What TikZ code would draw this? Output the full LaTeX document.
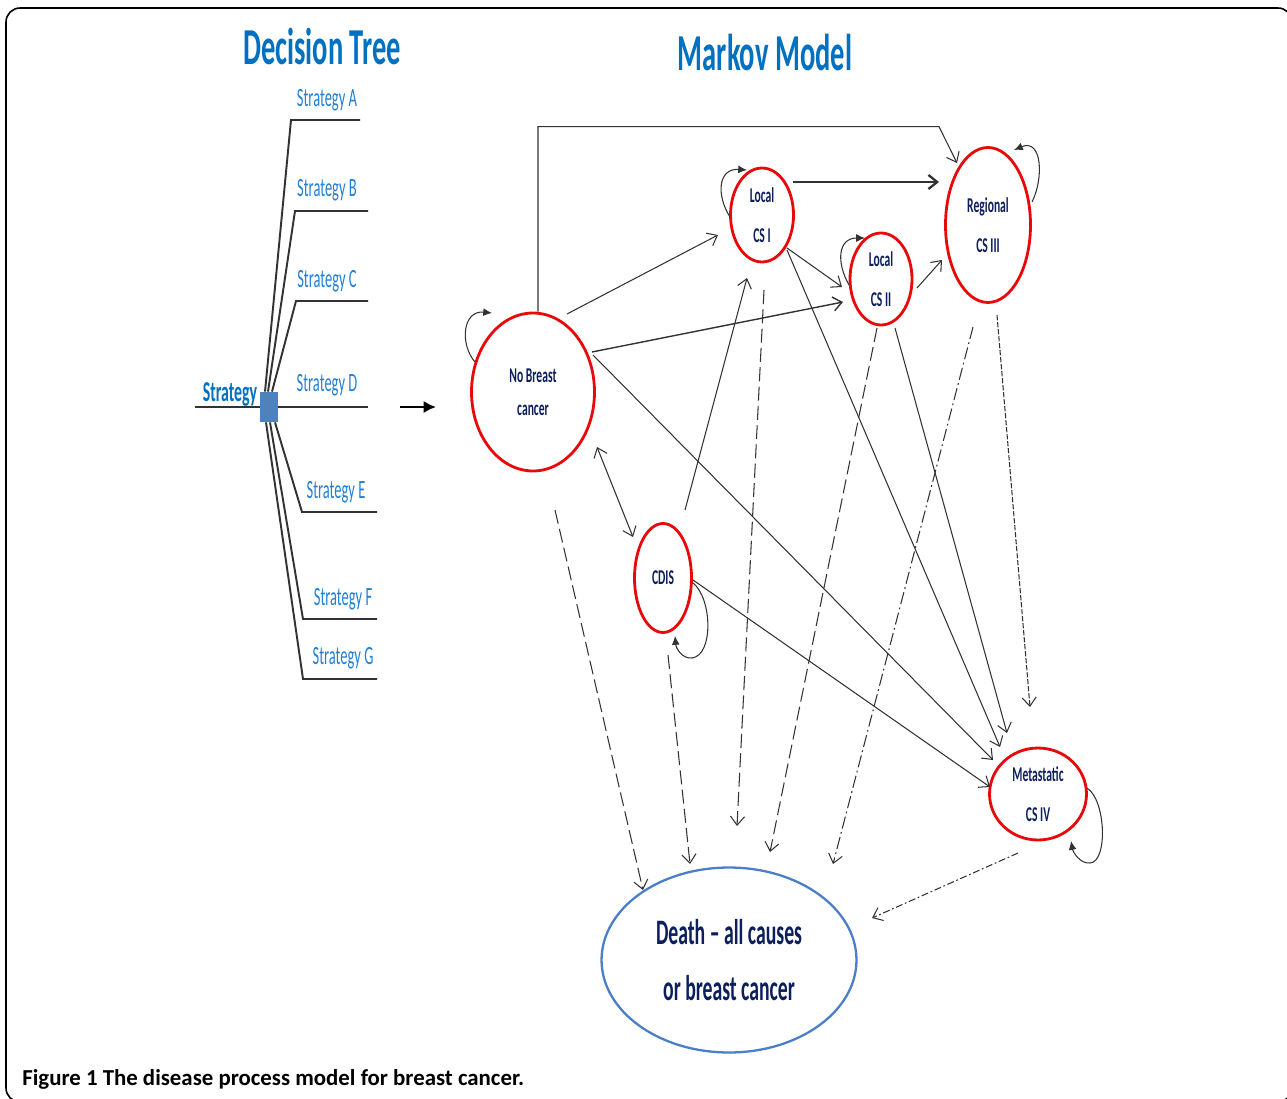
\documentclass[tikz,border=0pt]{standalone}
\usepackage{fontspec}
\usetikzlibrary{shapes.geometric,arrows.meta}

\newfontfamily\narrowfont[FakeStretch=0.55]{Carlito}
\newfontfamily\capfont{Carlito}

\definecolor{titleblue}{RGB}{0,112,192}
\definecolor{labelblue}{RGB}{35,128,212}
\definecolor{boxblue}{RGB}{79,129,189}
\definecolor{statered}{RGB}{232,10,10}
\definecolor{deathblue}{RGB}{74,126,200}
\definecolor{navytext}{RGB}{12,30,92}
\definecolor{linegray}{RGB}{50,50,50}

\tikzset{
  >={Straight Barb[length=5pt,width=8pt]},
  markovstate/.style={ellipse, draw=statered, line width=1.6pt, text=navytext, align=center, inner sep=0pt,
    font=\narrowfont\bfseries\fontsize{12}{23}\selectfont},
  deathstate/.style={ellipse, draw=deathblue, line width=1.3pt, text=navytext, align=center, inner sep=0pt,
    font=\narrowfont\bfseries\fontsize{20.4}{31.7}\selectfont},
  flowarrow/.style={->, draw=linegray, line width=0.6pt},
  deathflow/.style={flowarrow, dash pattern=on 8pt off 3pt},
  dashdotflow/.style={flowarrow, dash pattern=on 7pt off 2pt on 1pt off 2pt},
  selfloop/.style={draw=linegray, line width=0.6pt, -{Latex[length=5pt,width=4.5pt]}},
  branchline/.style={draw=linegray, line width=1.1pt},
  stratlabel/.style={text=labelblue, font=\narrowfont\fontsize{15}{16}\selectfont},
}

\begin{document}
\begin{tikzpicture}[x=0.02cm,y=-0.02cm]
    \useasboundingbox (0,0) rectangle (1287,1098);

    % Frame
    \begin{scope}
        \clip (0,0) rectangle (1287,1098);
        \draw[line width=0.9pt, rounded corners=8] (6,8) rectangle (1292,1102);
    \end{scope}

    % Titles
    \node[text=titleblue, font=\narrowfont\bfseries\fontsize{29.5}{30}\selectfont] (treetitle) at (322,47) {Decision Tree};
    \node[text=titleblue, font=\narrowfont\bfseries\fontsize{29.5}{30}\selectfont] (markovtitle) at (765,53) {Markov Model};

    % Decision tree
    \draw[branchline] (195,407) -- (368,407);
    \node[fill=boxblue, minimum width=0.36cm, minimum height=0.6cm, inner sep=0pt] (root) at (269,407) {};
    \node[text=titleblue, font=\narrowfont\bfseries\fontsize{16.4}{17}\selectfont] (rootlabel) at (230,394) {Strategy};

    \draw[branchline] ([shift={(-4,0)}]root.north) -- (291,120) -- (360,120);
    \draw[branchline] ([shift={(-1,0)}]root.north) -- (295,211) -- (368,211);
    \draw[branchline] ([shift={(3,0)}]root.north) -- (296,301) -- (368,301);
    \draw[branchline] ([shift={(6,0)}]root.south) -- (302,512) -- (377,512);
    \draw[branchline] ([shift={(1,0)}]root.south) -- (303,619) -- (377,619);
    \draw[branchline] ([shift={(-3,0)}]root.south) -- (303,679) -- (377,679);

    \node[stratlabel] (stratA) at (327,100) {Strategy A};
    \node[stratlabel] (stratB) at (327,190) {Strategy B};
    \node[stratlabel] (stratC) at (327,281) {Strategy C};
    \node[stratlabel] (stratD) at (327,385) {Strategy D};
    \node[stratlabel] (stratE) at (336,492) {Strategy E};
    \node[stratlabel] (stratF) at (343,599) {Strategy F};
    \node[stratlabel] (stratG) at (343,658) {Strategy G};

    % Link arrow
    \coordinate (linkstart) at (400,407);
    \coordinate (linkend) at (436,407);
    \draw[line width=1.5pt, -{Latex[length=7pt,width=7pt]}] (linkstart) -- (linkend);

    % Markov states
    \node[markovstate, minimum width=2.46cm, minimum height=3.16cm, font=\narrowfont\bfseries\fontsize{12}{18.7}\selectfont] (nobc) at (533,392) {No Breast\\cancer};
    \node[markovstate, minimum width=1.26cm, minimum height=1.88cm] (csone) at (762,215) {Local\\CS I};
    \node[markovstate, minimum width=1.24cm, minimum height=1.84cm] (cstwo) at (881,279) {Local\\CS II};
    \node[markovstate, minimum width=1.7cm, minimum height=3.1cm] (csthree) at (988,225) {Regional\\CS III};
    \node[markovstate, minimum width=1.14cm, minimum height=2.18cm] (cdis) at (663,578) {CDIS};
    \node[markovstate, minimum width=1.94cm, minimum height=1.84cm] (meta) at (1038,794) {Metastatic\\CS IV};
    \node[deathstate, minimum width=5.1cm, minimum height=3.7cm] (death) at (729,960) {Death – all causes\\or breast cancer};

    % Transitions
    \draw[flowarrow] ([shift={(5,0)}]nobc.north) -- ++(0,-185) -- ++(401,0) -- ([shift={(-31,-62)}]csthree.center);
    \draw[flowarrow, line width=1.3pt] ([shift={(31,-33)}]csone.center) -- ([shift={(-49,-43)}]csthree.center);
    \draw[flowarrow] ([shift={(34,-78)}]nobc.center) -- ([shift={(-44,20)}]csone.center);
    \draw[flowarrow] ([shift={(25,33)}]csone.center) -- ([shift={(-39,8)}]cstwo.center);
    \draw[flowarrow, line width=0.8pt] ([shift={(59,-40)}]nobc.center) -- ([shift={(-38,23)}]cstwo.center);
    \draw[flowarrow] ([shift={(36,9)}]cstwo.center) -- ([shift={(-46,35)}]csthree.center);
    \draw[flowarrow, <->] ([shift={(64,55)}]nobc.center) -- ([shift={(-30,-41)}]cdis.center);
    \draw[flowarrow] ([shift={(22,-68)}]cdis.center) -- ([shift={(-15,63)}]csone.center);

    % Transitions to metastatic
    \draw[flowarrow] ([shift={(60,-37)}]nobc.center) -- ([shift={(-45,-34)}]meta.center);
    \draw[flowarrow] ([shift={(30,2)}]cdis.center) -- ([shift={(-48,-7)}]meta.center);
    \draw[flowarrow] ([shift={(25,35)}]csone.center) -- ([shift={(-38,-47)}]meta.center);
    \draw[flowarrow] ([shift={(14,49)}]cstwo.center) -- ([shift={(-31,-61)}]meta.center);
    \draw[flowarrow, dash pattern=on 3pt off 1pt] ([shift={(9,90)}]csthree.center) -- ([shift={(-8,-87)}]meta.center);

    % Transitions to death
    \draw[deathflow] ([shift={(22,118)}]nobc.center) -- ([shift={(-86,-70)}]death.center);
    \draw[deathflow] ([shift={(5,77)}]cdis.center) -- ([shift={(-39,-96)}]death.center);
    \draw[deathflow] ([shift={(2,75)}]csone.center) -- ([shift={(8,-134)}]death.center);
    \draw[deathflow] ([shift={(-4,49)}]cstwo.center) -- ([shift={(41,-108)}]death.center);
    \draw[dashdotflow] ([shift={(-15,102)}]csthree.center) -- ([shift={(104,-96)}]death.center);
    \draw[flowarrow, dash pattern=on 4pt off 1.5pt on 1pt off 1.5pt] ([shift={(-20,59)}]meta.center) -- ([shift={(143,-42)}]death.center);

    % Self loops
    \draw[selfloop] ([shift={(-58,-30)}]nobc.center) .. controls (460,345) and (462,310) .. ([shift={(-41,-79)}]nobc.center);
    \draw[selfloop] ([shift={(-32,2)}]csone.center) .. controls (716,195) and (718,168) .. ([shift={(-15,-45)}]csone.center);
    \draw[selfloop] ([shift={(-32,6)}]cstwo.center) .. controls (836,262) and (838,238) .. ([shift={(-16,-41)}]cstwo.center);
    \draw[selfloop] ([shift={(44,-23)}]csthree.center) .. controls (1044,178) and (1042,138) .. ([shift={(26,-75)}]csthree.center);
    \draw[selfloop] ([shift={(30,5)}]cdis.center) .. controls (712,598) and (714,655) .. (692,658) .. controls (682,659) and (676,648) .. ([shift={(12,58)}]cdis.center);
    \draw[selfloop] ([shift={(49,-6)}]meta.center) .. controls (1106,800) and (1108,862) .. (1090,863) .. controls (1080,864) and (1073,852) .. ([shift={(33,47)}]meta.center);

    % Caption
    \node[anchor=west, font=\capfont\bfseries\fontsize{13}{15}\selectfont, inner sep=0pt] (caption) at (22,1079) {Figure 1 The disease process model for breast cancer.};
\end{tikzpicture}
\end{document}
